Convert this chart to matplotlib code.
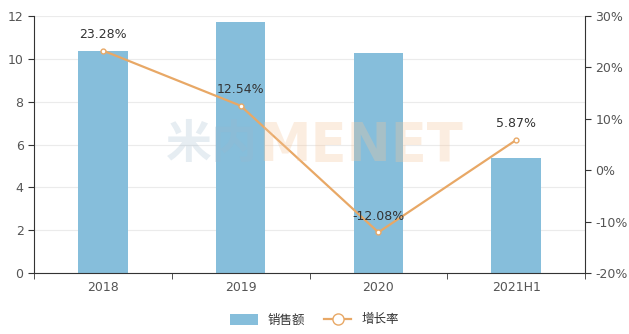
import matplotlib.pyplot as plt
import numpy as np
from matplotlib.lines import Line2D
from matplotlib.patches import Patch

plt.rcParams['font.family'] = ['Noto Sans CJK SC', 'DejaVu Sans']

# --- data ---
years = ["2018", "2019", "2020", "2021H1"]
sales = [10.36, 11.72, 10.27, 5.39]
growth = [23.28, 12.54, -12.08, 5.87]

bar_color = "#86bedb"
line_color = "#e8a866"
axis_color = "#333333"
text_color = "#333333"

fig = plt.figure(figsize=(6.29, 3.34), dpi=100)
ax = fig.add_axes([34 / 629, 1 - 273 / 334, (585 - 34) / 629, (273 - 16) / 334])
ax2 = ax.twinx()

x = np.arange(len(years))
ax.bar(x, sales, width=0.36, color=bar_color, zorder=2, label="销售额")
ax.set_xlim(-0.5, len(years) - 0.5)
ax.set_ylim(0, 12)
ax.set_yticks(range(0, 13, 2))
ax.grid(axis="y", color="#ebebeb", linewidth=0.8, zorder=0)
ax.set_axisbelow(True)

ax2.plot(x, growth, color=line_color, linewidth=1.6, marker="o", markersize=3.5,
         markerfacecolor="white", markeredgecolor=line_color, markeredgewidth=1,
         zorder=3, label="增长率")
ax2.set_ylim(-20, 30)
ax2.set_yticks(range(-20, 31, 10))
ax2.set_yticklabels([f"{v}%" for v in range(-20, 31, 10)])
for xi, g in zip(x, growth):
    ax2.annotate(f"{g:.2f}%", (xi, g), xytext=(0, 7), textcoords="offset points",
                 ha="center", va="bottom", fontsize=9, color=text_color, family="DejaVu Sans")

# axis styling
ax.set_xticks(x)
ax.set_xticklabels(years)
ax.set_xticks(np.arange(-0.5, len(years), 1), minor=True)
ax.tick_params(axis="x", which="major", length=0, labelsize=9, colors=text_color, pad=6)
ax.tick_params(axis="x", which="minor", length=4, color=axis_color)
ax.tick_params(axis="y", length=4, labelsize=9, colors=text_color, color=axis_color)
ax2.tick_params(axis="y", length=4, labelsize=9, colors=text_color, color=axis_color)
for t in ax.get_xticklabels() + ax.get_yticklabels() + ax2.get_yticklabels():
    t.set_family("DejaVu Sans")
    t.set_color("#555555")

for a in (ax, ax2):
    a.spines["top"].set_visible(False)
    a.spines["left"].set_color(axis_color)
    a.spines["right"].set_color(axis_color)
    a.spines["bottom"].set_color(axis_color)
ax.spines["right"].set_visible(False)
ax2.spines["left"].set_visible(False)
ax2.spines["bottom"].set_visible(False)

# watermark
fig.text(166 / 629, 1 - 145 / 334, "米内", fontsize=33, fontweight="bold",
         color="#9db8cc", alpha=0.25, ha="left", va="center", zorder=0)
fig.text(258 / 629, 1 - 146 / 334, "MENET", fontsize=38, fontweight="bold",
         color="#f5c59a", alpha=0.3, ha="left", va="center", zorder=0, family="DejaVu Sans")

# legend
handles = [Patch(facecolor=bar_color, edgecolor="none"),
           Line2D([0], [0], color=line_color, linewidth=1.6, marker="o", markersize=8,
                  markerfacecolor="white", markeredgecolor=line_color)]
fig.legend(handles, ["销售额", "增长率"], loc="center", bbox_to_anchor=(0.5, 1 - 320 / 334),
           ncol=2, frameon=False, fontsize=9, handlelength=2.2, handleheight=1.0,
           columnspacing=1.5, labelcolor="#333333")

fig.savefig("out.png", dpi=100)
